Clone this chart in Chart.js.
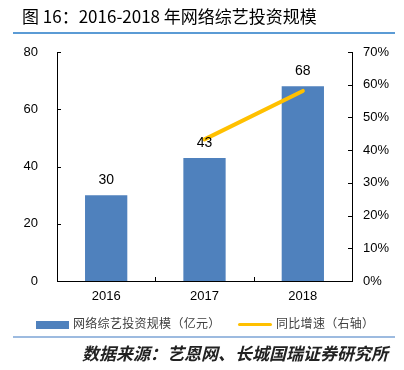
<!DOCTYPE html>
<html>
<head>
<meta charset="utf-8">
<script src="https://cdn.jsdelivr.net/npm/chart.js@4.4.1/dist/chart.umd.min.js"></script>
<style>
  body { margin: 0; background: #fff; }
  #wrap { position: relative; width: 404px; height: 370px; overflow: hidden; font-family: "Noto Sans CJK SC", sans-serif; }
  #c { position: absolute; left: 0; top: 0; }
  .title { position: absolute; left: 22px; top: 3px; font-size: 17px; color: #000; white-space: nowrap; }
  .rule1 { position: absolute; left: 13px; top: 32px; width: 382px; height: 2px; background: #5b9bd5; }
  .rule2 { position: absolute; left: 13px; top: 336px; width: 382px; height: 2px; background: #9dbbe0; }
  .legend { position: absolute; top: 314px; font-size: 12px; color: #404040; white-space: nowrap; letter-spacing: 0.3px; }
  .src { position: absolute; right: 16px; top: 340px; font-size: 17px; font-style: italic; font-weight: bold; color: #222; white-space: nowrap; }
</style>
</head>
<body>
<div id="wrap">
  <canvas id="c" width="404" height="370"></canvas>
  <div class="title">图 16：2016-2018 年网络综艺投资规模</div>
  <div class="rule1"></div>
  <div class="legend" style="left:36px;"><span style="display:inline-block;width:33px;height:8px;background:#4f81bd;vertical-align:middle;margin-right:4px;"></span>网络综艺投资规模（亿元）</div>
  <div class="legend" style="left:238px;"><span style="display:inline-block;width:34px;height:3px;background:#ffc000;vertical-align:middle;margin-right:4px;border-radius:2px;"></span>同比增速（右轴）</div>
  <div class="rule2"></div>
  <div class="src">数据来源：艺恩网、长城国瑞证券研究所</div>
</div>
<script>
var years = ["2016", "2017", "2018"];
var investment = [30, 43, 68];
var growth = [null, 43.3, 58.1];

var tickFont = { family: "Liberation Sans, Arial, sans-serif", size: 13 };

// inner tick marks and bar value labels
var decor = {
  id: "decor",
  afterDatasetsDraw: function (chart) {
    var ctx = chart.ctx;
    var area = chart.chartArea;
    var y = chart.scales.y, y1 = chart.scales.y1, x = chart.scales.x;
    ctx.save();
    ctx.strokeStyle = "#000";
    ctx.lineWidth = 1;
    ctx.beginPath();
    y.ticks.forEach(function (t) {
      var p = Math.round(y.getPixelForValue(t.value)) + 0.5;
      ctx.moveTo(area.left, p); ctx.lineTo(area.left + 4, p);
    });
    y1.ticks.forEach(function (t) {
      var p = Math.round(y1.getPixelForValue(t.value)) + 0.5;
      ctx.moveTo(area.right, p); ctx.lineTo(area.right - 4, p);
    });
    for (var i = 1; i < years.length; i++) {
      var px = Math.round((x.getPixelForValue(i - 1) + x.getPixelForValue(i)) / 2) + 0.5;
      ctx.moveTo(px, area.bottom); ctx.lineTo(px, area.bottom - 4);
    }
    ctx.stroke();

    var meta = chart.getDatasetMeta(1);
    ctx.fillStyle = "#000";
    ctx.font = "14px Liberation Sans, Arial, sans-serif";
    ctx.textAlign = "center";
    ctx.textBaseline = "bottom";
    meta.data.forEach(function (bar, i) {
      ctx.fillText(String(investment[i]), bar.x, bar.y - 8);
    });
    ctx.restore();
  }
};

new Chart(document.getElementById("c"), {
  data: {
    labels: years,
    datasets: [
      {
        type: "line",
        data: growth,
        yAxisID: "y1",
        borderColor: "#ffc000",
        borderWidth: 4,
        borderCapStyle: "round",
        pointRadius: 0,
        order: 0
      },
      {
        type: "bar",
        data: investment,
        yAxisID: "y",
        backgroundColor: "#4f81bd",
        categoryPercentage: 0.86,
        barPercentage: 0.5,
        order: 1
      }
    ]
  },
  options: {
    responsive: false,
    animation: false,
    layout: { padding: { top: 52, left: 0, right: 0, bottom: 0 } },
    plugins: { legend: { display: false }, tooltip: { enabled: false } },
    scales: {
      x: {
        grid: { display: false, drawTicks: false },
        border: { color: "#000", width: 1 },
        ticks: { color: "#000", font: tickFont, padding: 8 },
        afterFit: function (s) { s.height = 89; }
      },
      y: {
        position: "left",
        min: 0, max: 80,
        ticks: { stepSize: 20, color: "#000", font: tickFont, padding: 19 },
        grid: { display: false, drawTicks: false },
        border: { color: "#000", width: 1 },
        afterFit: function (s) { s.width = 57; }
      },
      y1: {
        position: "right",
        min: 0, max: 70,
        ticks: { stepSize: 10, color: "#000", font: tickFont, padding: 11,
                 callback: function (v) { return v + "%"; } },
        grid: { display: false, drawTicks: false },
        border: { color: "#000", width: 1 },
        afterFit: function (s) { s.width = 52; }
      }
    }
  },
  plugins: [decor]
});
</script>
</body>
</html>
